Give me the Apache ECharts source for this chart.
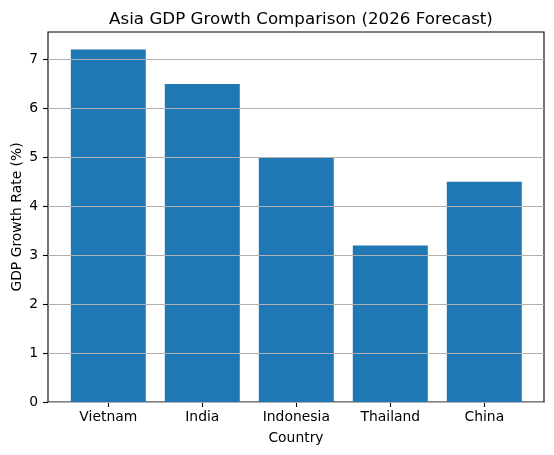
<!DOCTYPE html>
<html>
<head>
<meta charset="utf-8">
<script src="https://cdn.jsdelivr.net/npm/echarts@6/dist/echarts.min.js"></script>
<style>
  html, body { margin: 0; padding: 0; background: #fff; }
  #main { width: 554px; height: 455px; }
</style>
</head>
<body>
<div id="main"></div>
<script>
const countries = ['Vietnam', 'India', 'Indonesia', 'Thailand', 'China'];
const growth = [7.2, 6.5, 5.0, 3.2, 4.5];
const yMax = 7.56;

const chart = echarts.init(document.getElementById('main'));
const font = 'DejaVu Sans';
const tickStyle = { color: '#000', width: 1.1 };

// grid 0 = the axes frame with y labels and grid lines
// grid 1 = the bars, with matplotlib-like spacing for the categories
const options = {
  animation: false,
  title: {
    text: 'Asia GDP Growth Comparison (2026 Forecast)',
    left: 296,
    textAlign: 'center',
    top: 6,
    textStyle: { fontFamily: font, fontSize: 16.7, fontWeight: 'normal', color: '#000' }
  },
  grid: [
    { left: 48, right: 10, top: 32, bottom: 53, show: true, borderColor: '#000', borderWidth: 1.1 },
    { left: 61.3, right: 22.7, top: 32, bottom: 53 }
  ],
  xAxis: [
    {
      gridIndex: 0, type: 'category', data: countries,
      axisLine: { show: false }, axisTick: { show: false }, axisLabel: { show: false }, splitLine: { show: false },
      name: 'Country', nameLocation: 'middle', nameGap: 29, nameMoveOverlap: false,
      nameTextStyle: { fontFamily: font, fontSize: 13.9, color: '#000' }
    },
    {
      gridIndex: 1, type: 'category', data: countries,
      axisLine: { show: false },
      axisTick: { show: true, alignWithLabel: true, length: 5, lineStyle: tickStyle },
      axisLabel: { fontFamily: font, fontSize: 13.9, color: '#000', margin: 8, interval: 0 }
    }
  ],
  yAxis: [
    {
      gridIndex: 0, type: 'value', min: 0, max: yMax, interval: 1, z: 5,
      name: 'GDP Growth Rate (%)', nameLocation: 'middle', nameGap: 24, nameMoveOverlap: false,
      nameTextStyle: { fontFamily: font, fontSize: 13.9, color: '#000' },
      axisLine: { show: false },
      axisTick: { show: true, length: 5, lineStyle: tickStyle },
      axisLabel: { showMaxLabel: false, fontFamily: font, fontSize: 13.9, color: '#000', margin: 10 },
      splitLine: { show: true, showMaxLine: false, lineStyle: { color: '#b0b0b0', width: 1.1 } }
    },
    { gridIndex: 1, type: 'value', min: 0, max: yMax, show: false, splitLine: { show: false } }
  ],
  series: [{
    type: 'bar',
    xAxisIndex: 1,
    yAxisIndex: 1,
    barWidth: 75,
    itemStyle: { color: '#1f77b4' },
    data: growth
  }]
};

chart.setOption(options);
</script>
</body>
</html>
